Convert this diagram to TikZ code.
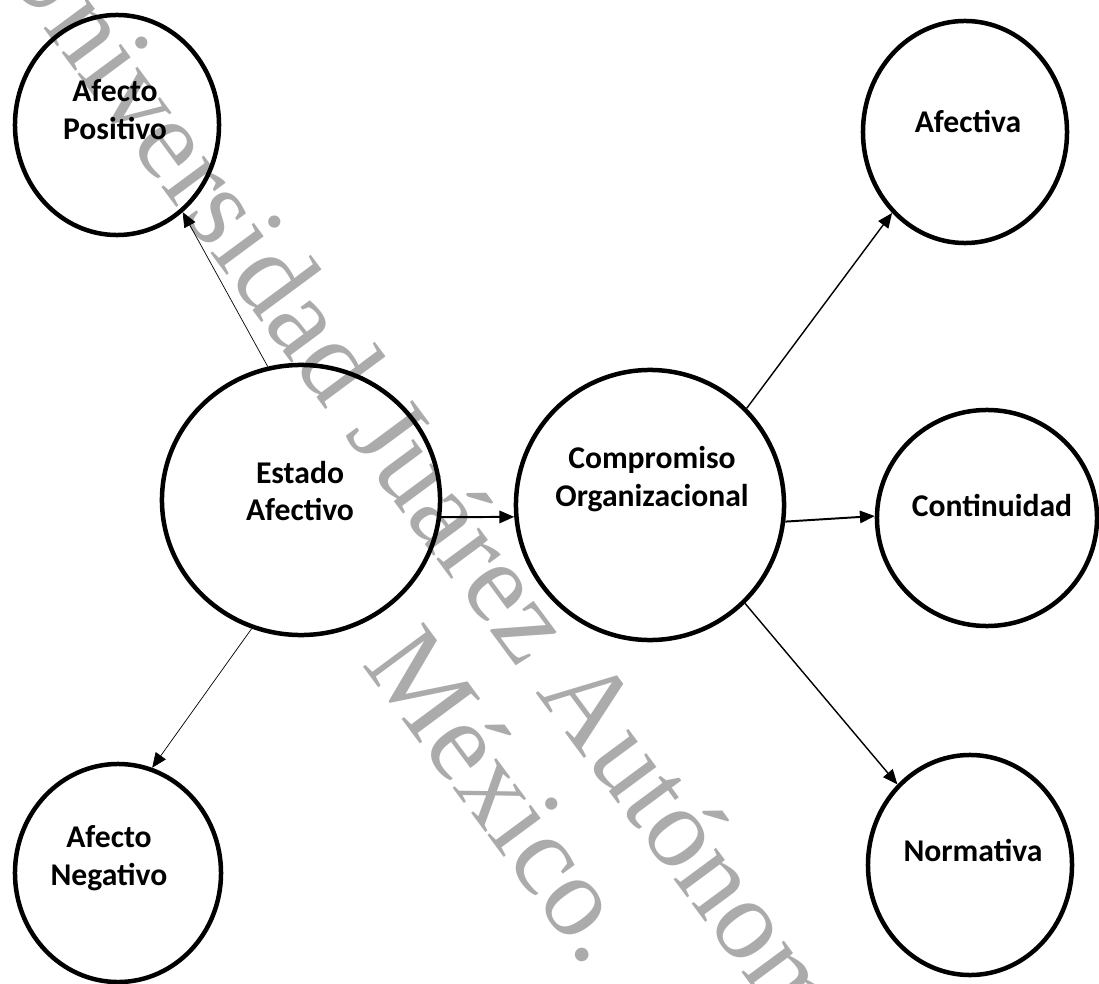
\documentclass[tikz,border=0pt]{standalone}
\usepackage{fontspec}
\usepackage{tikz}
\usetikzlibrary{arrows.meta}
\usetikzlibrary{shapes.geometric}
\newfontfamily\carlito{Carlito}
\newfontfamily\marcafont{Liberation Serif}
\definecolor{marcagris}{HTML}{ABABAB}
\tikzset{
	elip/.style={draw, ellipse, line width=3.2pt, inner sep=0pt},
	etiq/.style={align=center, inner sep=0pt, font=\carlito\bfseries\fontsize{22.5}{27}\selectfont},
	marca/.style={marcagris, inner sep=0pt, anchor=base, rotate=-53.5, font=\marcafont\fontsize{81.7}{90}\selectfont},
	flecha/.style={-{Triangle[length=0.37cm,width=0.31cm]}}
}

\begin{document}
\begin{tikzpicture}[x=0.025cm,y=-0.025cm]
		\useasboundingbox (0,0) rectangle (1099,984);
		\clip (0,0) rectangle (1099,984);
		\node[marca] (marca1) at (578,750) {Universidad Juárez Autónoma de Tabasco.}; %marca de agua
		\node[marca] (marca2) at (474,817) {México.};
		\node[elip, minimum width=5.1cm, minimum height=5.5cm] (apos) at (117,125) {};
		\node[elip, minimum width=5.15cm, minimum height=5.45cm] (aneg) at (118,873) {};
		\node[elip, minimum width=6.95cm, minimum height=6.75cm] (estado) at (301,500) {};
		\node[elip, minimum width=6.7cm, minimum height=6.75cm] (comp) at (650,505) {};
		\node[elip, minimum width=5.1cm, minimum height=5.55cm] (afec) at (965,132) {};
		\node[elip, minimum width=5.5cm, minimum height=5.4cm] (cont) at (987,518) {};
		\node[elip, minimum width=5.1cm, minimum height=5.5cm] (norm) at (970,865) {};
		\node[etiq] (apos-t) at (115,110) {Afecto\\Positivo};
		\node[etiq] (aneg-t) at (109,858) {Afecto\\Negativo};
		\node[etiq] (estado-t) at (300,491) {Estado\\Afectivo};
		\node[etiq] (comp-t) at (652,479) {Compromiso\\Organizacional};
		\node[etiq] (afec-t) at (968,121) {Afectiva};
		\node[etiq] (cont-t) at (992,505) {Continuidad};
		\node[etiq] (norm-t) at (973,850) {Normativa};
		\draw [flecha, line width=0.5pt] (estado.104) -- (apos.-53);
		\draw [flecha, line width=0.5pt] (estado.-111) -- (aneg.72);
		\draw [flecha, line width=1.4pt] (estado.-7) -- (comp.185);
		\draw [flecha, line width=1pt] (comp.45) -- (afec.228);
		\draw [flecha, line width=1.4pt] (comp.-7) -- (cont.179);
		\draw [flecha, line width=1pt] (comp.-46) -- (norm.132);
\end{tikzpicture}
\end{document}
